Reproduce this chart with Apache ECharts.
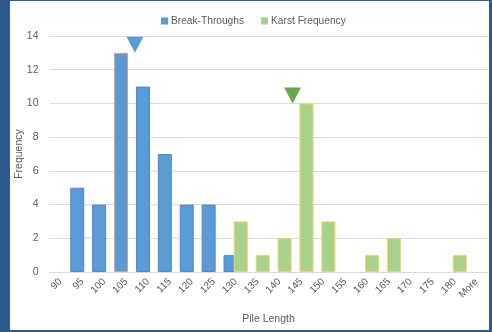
<!DOCTYPE html>
<html>
<head>
<meta charset="utf-8">
<script src="https://cdn.jsdelivr.net/npm/echarts@6/dist/echarts.min.js"></script>
<style>
  html, body { margin: 0; padding: 0; width: 492px; height: 332px; background: #2f5b8e; overflow: hidden; }
  #chart { position: absolute; left: 10px; top: 1px; width: 479px; height: 329px; background: #ffffff; }
</style>
</head>
<body>
<div id="chart"></div>
<script>
// Histogram bins (pile length)
const categories = ['90', '95', '100', '105', '110', '115', '120', '125', '130', '135',
  '140', '145', '150', '155', '160', '165', '170', '175', '180', 'More'];

// Counts per bin
const breakThroughs = [0, 5, 4, 13, 11, 7, 4, 4, 1, 0, 0, 0, 0, 0, 0, 0, 0, 0, 0, 0];
const karstFrequency = [0, 0, 0, 0, 0, 0, 0, 0, 3, 1, 2, 10, 3, 0, 1, 2, 0, 0, 1, 0];

// Peak markers: [pile length, peak count]
const breakPeak = [107, 13];
const karstPeak = [143, 10];

// Y axis ticks
const yTicks = [0, 2, 4, 6, 8, 10, 12, 14];

const blue = '#5b9bd5';
const green = '#a9d18e';
const textColor = '#595959';
const font = 'Liberation Sans, Arial, sans-serif';

// Bins with no counts are left empty so no outline is drawn at zero
const asBars = (arr, special) => arr.map((v, i) => {
  if (!v) return '-';
  const item = { value: v };
  if (special && special[i]) item.itemStyle = { borderColor: special[i] };
  return item;
});

const chart = echarts.init(document.getElementById('chart'), null, { renderer: 'canvas' });

chart.setOption({
  animation: false,
  textStyle: { fontFamily: font },
  legend: {
    data: ['Break-Throughs', 'Karst Frequency'],
    left: 146,
    top: 10,
    itemWidth: 7,
    itemHeight: 7,
    itemGap: 17,
    icon: 'rect',
    itemStyle: { borderWidth: 0 },
    textStyle: { color: textColor, fontSize: 10.2, fontFamily: font, padding: [0, 0, 0, -2] }
  },
  grid: { left: 39.5, right: 1.5, top: 35, bottom: 58, containLabel: false, outerBoundsMode: 'none' },
  xAxis: [{
    type: 'category',
    data: categories,
    name: 'Pile Length',
    nameLocation: 'middle',
    nameGap: 42,
    nameTextStyle: { color: textColor, fontSize: 10.5 },
    axisLine: { show: true, lineStyle: { color: '#d9d9d9' } },
    axisTick: { show: false },
    axisLabel: { rotate: 45, color: textColor, fontSize: 10, margin: 8, interval: 0 }
  }, {
    // hidden linear scale aligned with the bins, used for the peak markers
    type: 'value',
    min: 87.5,
    max: 187.5,
    show: false
  }],
  yAxis: {
    type: 'value',
    min: yTicks[0],
    max: yTicks[yTicks.length - 1],
    interval: 2,
    name: 'Frequency',
    nameLocation: 'middle',
    nameGap: 25,
    nameMoveOverlap: false,
    nameTextStyle: { color: textColor, fontSize: 10.5 },
    axisLine: { show: false },
    axisTick: { show: false },
    axisLabel: { color: textColor, fontSize: 10.5, margin: 11 },
    splitLine: { lineStyle: { color: '#dcdcdc' } }
  },
  series: [{
    name: 'Break-Throughs',
    type: 'bar',
    xAxisIndex: 0,
    data: asBars(breakThroughs, { 3: '#d3a57a' }),
    barWidth: 14,
    barGap: '-27%',
    itemStyle: { color: blue, borderColor: '#4a8bc9', borderWidth: 1 }
  }, {
    name: 'Karst Frequency',
    type: 'bar',
    xAxisIndex: 0,
    data: asBars(karstFrequency),
    barWidth: 14,
    barGap: '-27%',
    itemStyle: { color: green, borderColor: '#f2d25c', borderWidth: 1 }
  }, {
    type: 'scatter',
    xAxisIndex: 1,
    data: [breakPeak],
    symbol: 'triangle',
    symbolRotate: 180,
    symbolSize: [17, 16],
    symbolOffset: [0, -8],
    itemStyle: { color: blue, opacity: 1 },
    z: 5
  }, {
    type: 'scatter',
    xAxisIndex: 1,
    data: [karstPeak],
    symbol: 'triangle',
    symbolRotate: 180,
    symbolSize: [17, 16],
    symbolOffset: [0, -8],
    itemStyle: { color: '#6aa84f', opacity: 1 },
    z: 5
  }]
});
</script>
</body>
</html>
